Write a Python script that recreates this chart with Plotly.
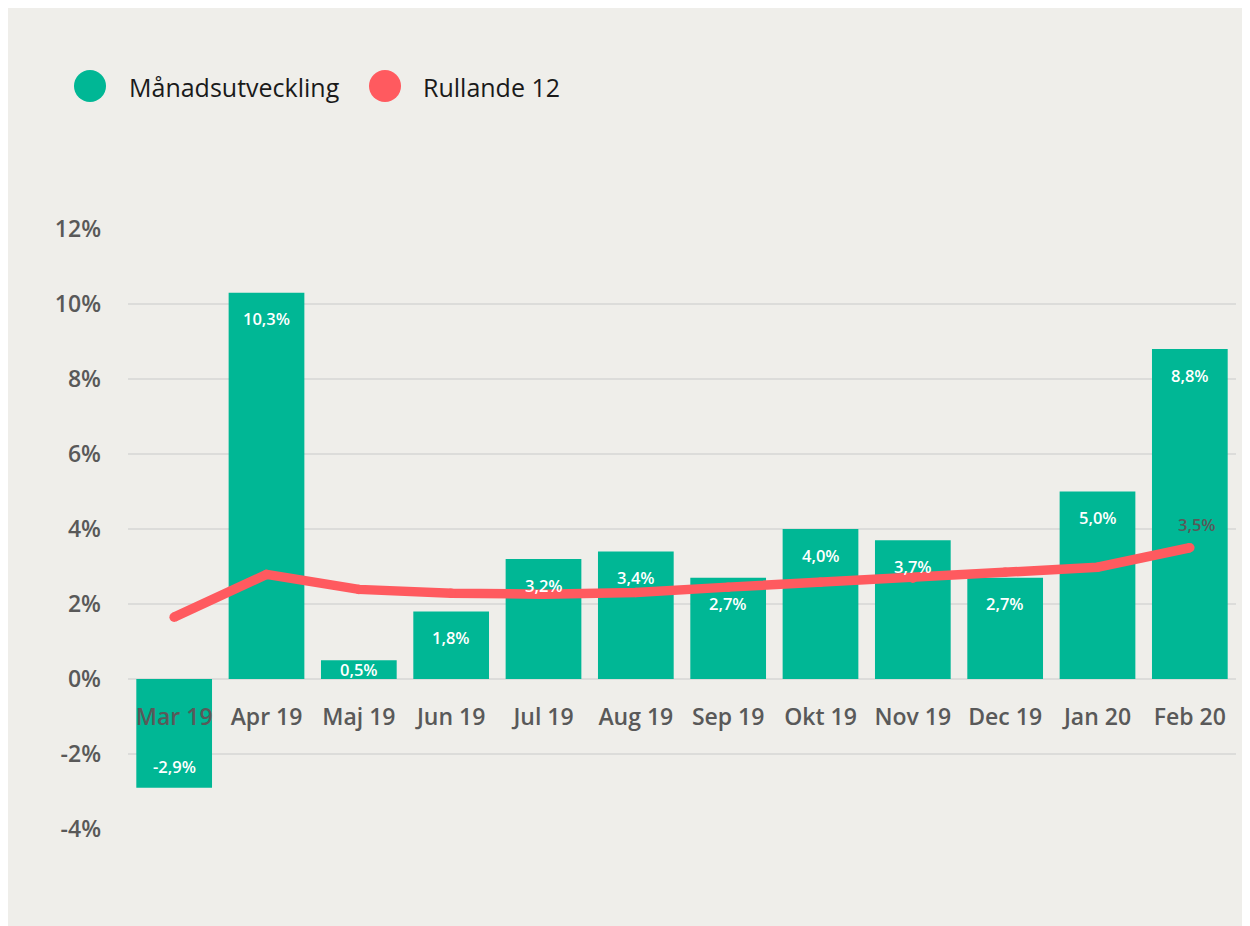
import plotly.graph_objects as go

months = ["Mar 19", "Apr 19", "Maj 19", "Jun 19", "Jul 19", "Aug 19",
          "Sep 19", "Okt 19", "Nov 19", "Dec 19", "Jan 20", "Feb 20"]
monthly = [-2.9, 10.3, 0.5, 1.8, 3.2, 3.4, 2.7, 4.0, 3.7, 2.7, 5.0, 8.8]
rolling12 = [1.65, 2.79, 2.39, 2.29, 2.26, 2.31, 2.45, 2.58, 2.69, 2.85, 2.98, 3.5]
series_names = ["Månadsutveckling", "Rullande 12"]
y_ticks = [-4, -2, 0, 2, 4, 6, 8, 10, 12]

GREEN = "#00B795"
RED = "#FF5A5F"
BG = "#EFEEEA"
GREY = "#595959"
FONT = "Open Sans"

W, H = 1250, 926
ML, MR, MT, MB = 120, 22, 221, 105
PW, PH = W - ML - MR, H - MT - MB
YMIN, YMAX = -4, 12
PX_PER_UNIT = PH / (YMAX - YMIN)


def px_to_paper(px, py):
    return (px - ML) / PW, (H - MB - py) / PH


def fmt(v):
    return f"{v:.1f}".replace(".", ",") + "%"


fig = go.Figure()
fig.add_trace(go.Bar(
    x=months, y=monthly, marker=dict(color=GREEN, line=dict(width=0)),
    name=series_names[0], showlegend=False, hoverinfo="skip",
))
fig.add_trace(go.Scatter(
    x=months, y=rolling12, mode="lines+markers", name=series_names[1],
    line=dict(color=RED, width=9.5), marker=dict(color=RED, size=9.5),
    showlegend=False, hoverinfo="skip",
))

annotations = []
for m, v in zip(months, monthly):
    if v >= 0:
        yc = max(v - 26 / PX_PER_UNIT, v / 2)
    else:
        yc = min(v + 21 / PX_PER_UNIT, v / 2)
    annotations.append(dict(
        x=m, y=yc, xref="x", yref="y", text=fmt(v), showarrow=False,
        font=dict(family=FONT, size=16.5, color="white", weight=600),
        yanchor="middle", xanchor="center",
    ))
annotations.append(dict(
    x=months[-1], y=rolling12[-1], xref="x", yref="y", text=fmt(rolling12[-1]),
    showarrow=False, font=dict(family=FONT, size=16.5, color=GREY, weight=600),
    yanchor="middle", xanchor="center", xshift=7, yshift=23,
))

shapes = []
for (cx, tx), color, name in zip([(82, 119), (377, 413)], [GREEN, RED], series_names):
    x0, y0 = px_to_paper(cx - 16, 78 + 16)
    x1, y1 = px_to_paper(cx + 16, 78 - 16)
    shapes.append(dict(type="circle", xref="paper", yref="paper", x0=x0, x1=x1,
                       y0=y0, y1=y1, fillcolor=color, line=dict(width=0)))
    ax, ay = px_to_paper(tx, 79)
    annotations.append(dict(x=ax, y=ay, xref="paper", yref="paper", text=name,
                            showarrow=False, xanchor="left", yanchor="middle",
                            font=dict(family=FONT, size=25, color="#1a1a1a")))

fig.update_layout(
    width=W, height=H,
    margin=dict(l=ML, r=MR, t=MT, b=MB, autoexpand=False),
    paper_bgcolor=BG, plot_bgcolor=BG,
    bargap=0.18, showlegend=False,
    annotations=annotations, shapes=shapes,
    font=dict(family=FONT),
)
fig.update_yaxes(
    range=[YMIN, YMAX], tickvals=y_ticks, ticktext=[f"{t}%" for t in y_ticks],
    showgrid=True, gridcolor="#DCDCDA", gridwidth=2, zeroline=False,
    tickfont=dict(family=FONT, size=23, color=GREY, weight=600),
    ticklabelstandoff=26, showline=False, automargin=False,
)
fig.update_xaxes(
    type="category", anchor="free", position=(0 - YMIN) / (YMAX - YMIN),
    range=[-0.5, len(months) - 0.5],
    showgrid=False, showline=False, zeroline=False, ticks="",
    tickfont=dict(family=FONT, size=23, color=GREY, weight=600),
    ticklabelstandoff=22, automargin=False,
)

fig.write_html("out.html", post_script="document.body.style.overflow='hidden';")
